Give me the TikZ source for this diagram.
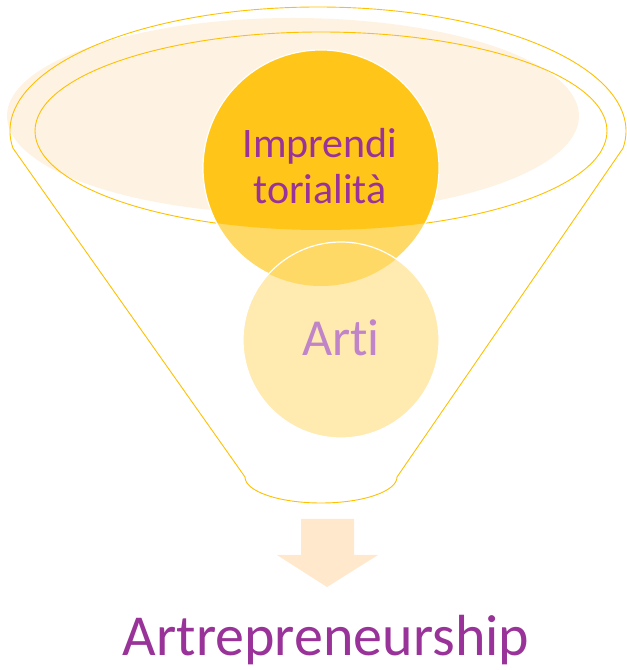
\documentclass[tikz,border=0pt]{standalone}
\usepackage{fontspec}
\setmainfont{Carlito}[Ligatures=NoCommon]
\definecolor{rim}{RGB}{255,192,0}
\definecolor{cream}{RGB}{254,242,226}
\definecolor{gold}{RGB}{255,198,25}
\definecolor{lightgold}{RGB}{255,217,102}
\definecolor{paleyellow}{RGB}{255,234,176}
\definecolor{plum}{RGB}{153,51,153}
\definecolor{lilac}{RGB}{192,132,200}
\definecolor{peach}{RGB}{255,232,204}

\begin{document}
\begin{tikzpicture}[x=1pt,y=1pt,
	rimline/.style={draw=rim, line width=0.9pt, line join=round},
	rimring/.style={white, line width=1.2pt},
	caption/.style={text=plum, inner sep=0pt, anchor=base}]
	\useasboundingbox (0,0) rectangle (627,670);
	% rim of the funnel
	\fill[cream] (293,554) ellipse[x radius=286, y radius=98];
	\draw[rimline] (321,539) ellipse[x radius=286, y radius=99];
	\draw[rimline] (318,539) ++(188:308 and 124) arc[start angle=188, end angle=-8, x radius=308, y radius=124]
		-- (397,193) arc[start angle=0, end angle=-180, x radius=76, y radius=26] -- cycle;

	% upper circle
	\fill[lightgold] (321,502) circle[radius=118];
	\begin{scope}
		\clip (321,539) ellipse[x radius=286, y radius=99];
		\fill[gold] (321,502) circle[radius=118];
	\end{scope}
	\draw[rimring] (321,502) circle[radius=118];

	% lower circle
	\fill[paleyellow] (341,330) circle[radius=98];
	\begin{scope}
		\clip (321,502) circle[radius=118];
		\fill[lightgold] (341,330) circle[radius=98];
	\end{scope}
	\draw[rimring] (341,330) circle[radius=98];

	\node[caption, font=\fontsize{42}{46}\selectfont] (impr) at (320,512) {Imprendi};
	\node[caption, font=\fontsize{42}{46}\selectfont] (tori) at (320,466) {torialità};
	\node[caption, text=lilac, font=\fontsize{52}{56}\selectfont] (arti) at (341,314) {Arti};

	% block arrow
	\fill[peach] (301,151) -- (354,151) -- (354,115) -- (378,115) -- (327,83) -- (277,115) -- (301,115) -- cycle;

	\node[caption, font=\fontsize{58}{62}\selectfont] (result) at (326,15) {Artrepreneurship};
\end{tikzpicture}
\end{document}
